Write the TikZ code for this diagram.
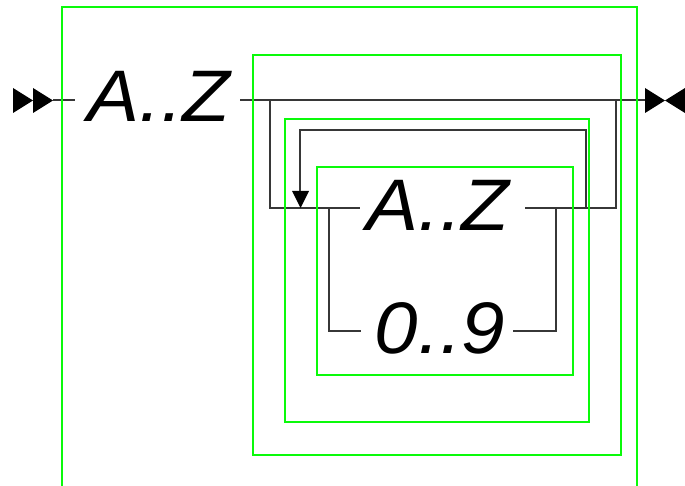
\documentclass[tikz,border=0pt]{standalone}
\usepackage{fontspec}
\setmainfont{Liberation Sans}
\newfontfamily\termfont[FakeStretch=1.07]{Liberation Sans}
\definecolor{rail}{RGB}{55,55,55}
\definecolor{boxgreen}{RGB}{10,250,10}
\begin{document}
\begin{tikzpicture}[x=1pt,y=-1pt,
  rail/.style={draw=rail,line width=2.1pt},
  gbox/.style={draw=boxgreen,line width=2.2pt},
  term/.style={inner sep=0pt,anchor=base,font=\termfont\fontsize{73}{73}\selectfont\itshape,text=black},
  tip/.style={fill=black}]
\useasboundingbox (0,0) rectangle (685,486);
% terminals
\node[term] (t1) at (159,122) {A..Z};
\node[term] (t2) at (438,231) {A..Z};
\node[term] (t3) at (440,353) {0..9};
% coordinates
\coordinate (s0) at (53,100);
\coordinate (s1) at (75,100);
\coordinate (m0) at (240,100);
\coordinate (m1) at (645,100);
\coordinate (bL) at (270,100);
\coordinate (bLd) at (270,208);
\coordinate (a2L) at (360,208);
\coordinate (a2R) at (525,208);
\coordinate (bRd) at (616,208);
\coordinate (bR) at (616,100);
\coordinate (lR) at (586,208);
\coordinate (lRt) at (586,130);
\coordinate (lLt) at (300,130);
\coordinate (lLb) at (300,192);
\coordinate (cL) at (329,208);
\coordinate (cLb) at (329,331);
\coordinate (d0L) at (361,331);
\coordinate (d0R) at (513,331);
\coordinate (cRb) at (556,331);
\coordinate (cR) at (556,208);
% start / end markers
\fill[tip] (13,88) -- (33,100.5) -- (13,113) -- cycle;
\fill[tip] (33,88) -- (53,100.5) -- (33,113) -- cycle;
\fill[tip] (645,88) -- (665,100.5) -- (645,113) -- cycle;
\fill[tip] (685,88) -- (665,100.5) -- (685,113) -- cycle;
% rails
\path[rail] (s0) -- (s1);
\path[rail] (m0) -- (m1);
\path[rail] (bL) -- (bLd) -- (a2L);
\path[rail] (a2R) -- (bRd) -- (bR);
\path[rail] (lR) -- (lRt) -- (lLt) -- (lLb);
\fill[tip] (292,191) -- (309,191) -- (300.5,208) -- cycle;
\path[rail] (cL) -- (cLb) -- (d0L);
\path[rail] (d0R) -- (cRb) -- (cR);
% green boxes
\path[gbox] (62,487) -- (62,7) -- (637,7) -- (637,487);
\path[gbox] (253,55) rectangle (621,455);
\path[gbox] (285,119) rectangle (589,422);
\path[gbox] (317,167) rectangle (573,375);
\end{tikzpicture}
\end{document}
